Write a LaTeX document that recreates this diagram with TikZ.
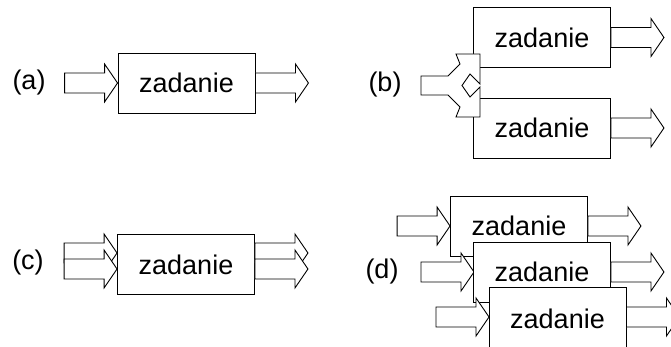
\documentclass[tikz,border=0pt]{standalone}
\usepackage{fontspec}
\setmainfont{Liberation Sans}
\begin{document}
\begin{tikzpicture}[x=1pt,y=-1pt,
  task/.style={draw=black,fill=white,line width=0.9pt,minimum width=137pt,
    minimum height=60pt,inner sep=0pt,font=\fontsize{27}{32}\selectfont},
  barrow/.style={draw=black,fill=white,line width=0.9pt,line join=miter},
  lbl/.style={inner sep=0pt,font=\fontsize{27}{32}\selectfont}]
\useasboundingbox (0,0) rectangle (671,347);
% block arrow: tail centre point, total length
\newcommand\blockarrow[2]{%
  \draw[barrow] (#1) ++(0,-10) -- ++({#2-13},0) -- ++(0,-9) -- ++(13,19)
    -- ++(-13,19) -- ++(0,-9) -- ++({13-#2},0) -- cycle;}

% (a) one task, one input, one output
\node[lbl] (la) at (29,83) {(a)};
\node[task] (a) at (186.5,83) {zadanie};
\blockarrow{[xshift=-53pt]a.west}{53}
\blockarrow{a.east}{53}

% (b) one input split between two tasks
\node[lbl] (lb) at (385,85) {(b)};
\node[task] (b1) at (542,37.5) {zadanie};
\node[task] (b2) at (542,128) {zadanie};
\draw[barrow] (421,76) -- (448,76) -- (460,64) -- (456,54) -- (480,54)
  -- (480,84) -- (470,74) -- (462,85.5) -- (470,97) -- (480,87)
  -- (480,117) -- (456,117) -- (460,107) -- (448,95) -- (421,95) -- cycle;
\blockarrow{b1.east}{53}
\blockarrow{b2.east}{53}

% (c) one task, several inputs and outputs
\node[lbl] (lc) at (28,263) {(c)};
\node[task] (c) at (186,264.5) {zadanie};
\blockarrow{[xshift=-53pt,yshift=11.5pt]c.west}{53}
\blockarrow{[xshift=-53pt,yshift=-4.5pt]c.west}{53}
\blockarrow{[yshift=11.5pt]c.east}{53}
\blockarrow{[yshift=-4.5pt]c.east}{53}

% (d) overlapping copies of the task
\node[lbl] (ld) at (382,272) {(d)};
\begin{scope}
\clip (0,0) rectangle (671,347);
\node[task] (d1) at (519,226) {zadanie};
\blockarrow{[xshift=-53pt]d1.west}{53}
\blockarrow{d1.east}{53}
\blockarrow{[xshift=-53pt]542-68,272}{53}
\node[task] (d2) at (542,272) {zadanie};
\blockarrow{d2.east}{53}
\blockarrow{[xshift=-53pt]557.5-68.5,317}{53}
\node[task,minimum height=64pt] (d3) at (557.5,319) {zadanie};
\blockarrow{[yshift=2pt]d3.east}{53}
\end{scope}
\end{tikzpicture}
\end{document}
